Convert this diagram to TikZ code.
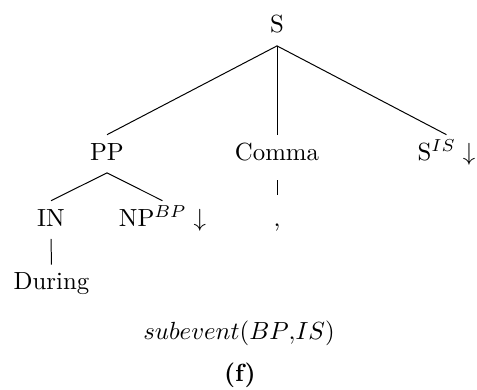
\documentclass[tikz,border=0pt]{standalone}
\begin{document}
\begin{tikzpicture}[x=0.4032pt,y=-0.4032pt,
        tnode/.style={anchor=base,inner sep=3pt,text height=7pt,text depth=2pt}]
        \useasboundingbox (0,0) rectangle (477,390);
        \node[tnode] (S) at (277,33) {S};
        \node[tnode] (PP) at (107,160) {PP};
        \node[tnode] (Comma) at (277,160) {Comma};
        \node[tnode] (SIS) at (446.5,160) {S$^{IS}\downarrow$};
        \node[tnode] (IN) at (51,226) {IN};
        \node[tnode] (NP) at (162.5,226) {NP$^{BP}\downarrow$};
        \node[tnode] (comma) at (277,226) {,};
        \node[tnode] (During) at (51.5,290) {During};
        \draw (S.south) -- (PP.north);
        \draw (S.south) -- (Comma.north);
        \draw (S.south) -- (SIS.north);
        \draw (PP.south) -- (IN.north);
        \draw (PP.south) -- (NP.north);
        \draw[shorten <=3pt,shorten >=2.4pt] (Comma.south) -- (Comma.south |- comma.north);
        \draw (IN.south) -- (During.north);
        \node[anchor=base] (rel) at (239,340) {$subevent(BP{,}IS)$};
        \node[anchor=base] (cap) at (240,382) {\textbf{(f)}};
    \end{tikzpicture}
\end{document}
